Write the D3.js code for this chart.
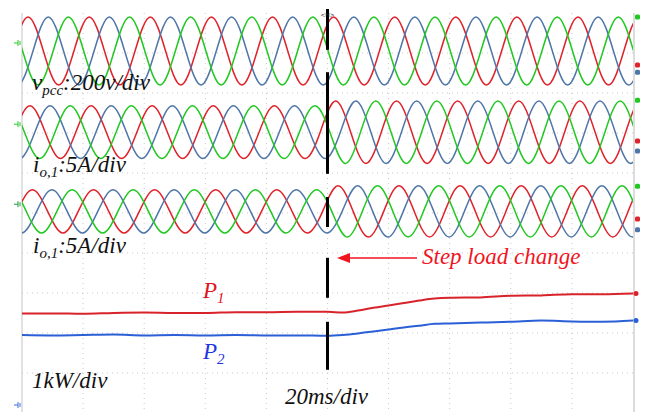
<!DOCTYPE html>
<html lang="en">
<head>
<meta charset="utf-8">
<title>Step load change</title>
<script src="https://cdn.jsdelivr.net/npm/d3@7"></script>
<style>
  body { margin: 0; background: #fff; }
  svg { display: block; }
  .lbl { font-family: "Liberation Serif", "Times New Roman", serif; font-style: italic; }
</style>
</head>
<body>
<script>
var w = 649, h = 412;

// time base: 20 ms/div, 10 divisions, load step at 5 div
var timeDomain = [0, 10];
var stepTime = 5.0;

// three phases (a, b, c)
var phaseColors = ["#e0222a", "#4f76a8", "#21c821"];

// band 1 : vpcc, 200 V/div
var vpccOffset = 4.05;          // div above centre
var vpccScale = 200;            // V/div
var vpccPeakTime = [0.10, 0.43, 0.76];   // first positive peak per phase (div)
var vpccAmp = [170, 170];       // peak V before / after step

// band 2 : io,1, 5 A/div
var io1Offset = 2.02;
var io1Scale = 5;
var io1PeakTime = [0.13, 0.46, 0.79];
var io1Amp = [3.3, 3.9];

// band 3 : second output current, 5 A/div
var io2Offset = 0.04;
var io2Scale = 5;
var io2PeakTime = [0.17, 0.49, 0.82];
var io2Amp = [2.7, 3.2];

// power, 1 kW/div, ground at -4.8 div
var powerOffset = -4.8;
var powerTime = [0, 0.5, 1, 1.5, 2, 2.5, 3, 3.5, 4, 4.5, 5, 5.25, 5.5, 5.75, 6, 6.25, 6.5, 6.75, 7, 7.5, 8, 8.5, 9, 9.5, 10];
var p1 = [2.29, 2.29, 2.28, 2.30, 2.31, 2.30, 2.30, 2.32, 2.32, 2.33, 2.33, 2.31, 2.36, 2.43, 2.49, 2.55, 2.61, 2.66, 2.68, 2.69, 2.73, 2.74, 2.77, 2.77, 2.79];
var p2 = [1.75, 1.74, 1.75, 1.76, 1.74, 1.75, 1.74, 1.75, 1.74, 1.74, 1.73, 1.75, 1.79, 1.84, 1.89, 1.94, 1.98, 2.03, 2.04, 2.06, 2.08, 2.11, 2.09, 2.08, 2.11];

// channel markers: left ground symbols and right level markers (div)
var groundDiv = [4.25, 2.22, 0.22];
var groundColors = ["#21c821", "#21c821", "#1a9a3a"];
var rightMarkDiv = [[4.9, 3.7, 3.52], [2.82, 1.8, 1.55], [0.67, -0.15, -0.42]]; // [green, red, blue]

// trigger line segments (div)
var trigSegs = [[5.1, 4.08], [3.52, 0.98], [0.4, -0.35], [-1.12, -2.12], [-2.72, -3.92]];

var x = d3.scaleLinear().domain(timeDomain).range([22, 633]);
var y = d3.scaleLinear().domain([-5, 5]).range([413, 13]);

var svg = d3.select("body").append("svg").attr("width", w).attr("height", h);

svg.append("defs").append("clipPath").attr("id", "plot")
  .append("rect").attr("x", 22).attr("y", 0).attr("width", 611).attr("height", h);

// dotted grid
var grid = svg.append("g").attr("stroke", "#c9c9c9").attr("stroke-dasharray", "1,4").attr("stroke-width", 1);
grid.selectAll("line.v").data(d3.range(1, 10)).enter().append("line")
  .attr("x1", function(d){ return x(d); }).attr("x2", function(d){ return x(d); })
  .attr("y1", y(5)).attr("y2", h);
grid.selectAll("line.h").data(d3.range(-4, 5)).enter().append("line")
  .attr("x1", x(0)).attr("x2", x(10))
  .attr("y1", function(d){ return y(d); }).attr("y2", function(d){ return y(d); });

// frame lines
svg.append("line").attr("x1", x(0)).attr("x2", x(0)).attr("y1", y(5)).attr("y2", h)
  .attr("stroke", "#c4c4c4").attr("stroke-width", 1);
svg.append("line").attr("x1", x(10) + 1).attr("x2", x(10) + 1).attr("y1", y(5)).attr("y2", h)
  .attr("stroke", "#dcdcdc").attr("stroke-width", 2);

// build wave points from peak times and amplitudes
function wavePoints(peak, amp, scale, offset) {
  var pts = [];
  var pattern = [1, 0, -1, 0];
  for (var q = -8; q <= 48; q++) {
    var t = peak + q / 4;
    var a = t < stepTime ? amp[0] : amp[1];
    var v = pattern[((q % 4) + 4) % 4] * a;
    pts.push([t, offset + v / scale]);
  }
  return pts;
}

var waveLine = d3.line()
  .x(function(d){ return x(d[0]); })
  .y(function(d){ return y(d[1]); })
  .curve(d3.curveNatural);

var bands = [
  { peaks: vpccPeakTime, amp: vpccAmp, scale: vpccScale, offset: vpccOffset },
  { peaks: io1PeakTime, amp: io1Amp, scale: io1Scale, offset: io1Offset },
  { peaks: io2PeakTime, amp: io2Amp, scale: io2Scale, offset: io2Offset }
];

var waves = svg.append("g").attr("clip-path", "url(#plot)");
bands.forEach(function(b){
  b.peaks.forEach(function(p, i){
    waves.append("path")
      .attr("d", waveLine(wavePoints(p, b.amp, b.scale, b.offset)))
      .attr("fill", "none")
      .attr("stroke", phaseColors[i])
      .attr("stroke-width", 1.5);
  });
});

// power traces
var pLine = d3.line()
  .x(function(d, i){ return x(powerTime[i]); })
  .y(function(d){ return y(powerOffset + d); })
  .curve(d3.curveMonotoneX);
svg.append("path").attr("d", pLine(p1)).attr("fill", "none").attr("stroke", "#d8232b").attr("stroke-width", 2);
svg.append("path").attr("d", pLine(p2)).attr("fill", "none").attr("stroke", "#2b5fd6").attr("stroke-width", 2);
svg.append("circle").attr("cx", x(10) + 3).attr("cy", y(powerOffset + p1[p1.length - 1])).attr("r", 2.5).attr("fill", "#d8232b");
svg.append("circle").attr("cx", x(10) + 3).attr("cy", y(powerOffset + p2[p2.length - 1])).attr("r", 2.5).attr("fill", "#2b5fd6");

// trigger line
svg.selectAll("line.trig").data(trigSegs).enter().append("line")
  .attr("x1", x(stepTime)).attr("x2", x(stepTime))
  .attr("y1", function(d){ return y(d[0]); }).attr("y2", function(d){ return y(d[1]); })
  .attr("stroke", "#000").attr("stroke-width", 3);
svg.append("text").attr("x", x(stepTime)).attr("y", 17).attr("text-anchor", "middle")
  .attr("font-family", "DejaVu Sans").attr("font-size", 6).attr("fill", "#222").text("<H>");

// ground markers on the left
groundDiv.concat([powerOffset]).forEach(function(g, i){
  var c = i < 3 ? groundColors[i] : "#3b6fe0";
  var gy = y(g);
  var m = svg.append("g").attr("stroke", c).attr("stroke-width", 1);
  m.append("line").attr("x1", 14).attr("x2", 18).attr("y1", gy).attr("y2", gy);
  m.append("line").attr("x1", 18).attr("x2", 18).attr("y1", gy - 3).attr("y2", gy + 3);
  m.append("line").attr("x1", 20).attr("x2", 20).attr("y1", gy - 2).attr("y2", gy + 2);
});

// right-hand channel markers
var markColors = ["#21c821", "#e0222a", "#4f76a8"];
rightMarkDiv.forEach(function(row){
  row.forEach(function(d, i){
    svg.append("rect").attr("x", x(10) + 2).attr("y", y(d) - 2.5).attr("width", 5).attr("height", 5)
      .attr("rx", 1.5).attr("fill", markColors[i]);
  });
});

// labels
function subLabel(tx, ty, main, sub, rest, color) {
  var t = svg.append("text").attr("class", "lbl").attr("x", tx).attr("y", ty)
    .attr("font-size", 23).attr("fill", color);
  t.append("tspan").text(main);
  t.append("tspan").attr("font-size", 15).attr("dy", 5).text(sub);
  if (rest) t.append("tspan").attr("dy", -5).text(rest);
}
subLabel(32, 90, "v", "pcc", ":200v/div", "#111");
subLabel(33, 172, "i", "o,1", ":5A/div", "#111");
subLabel(33, 253, "i", "o,1", ":5A/div", "#111");
subLabel(203, 298, "P", "1", null, "#e0141e");
subLabel(203, 359, "P", "2", null, "#2236e0");

svg.append("text").attr("class", "lbl").attr("x", 32).attr("y", 388).attr("font-size", 23)
  .attr("fill", "#111").text("1kW/div");
svg.append("text").attr("class", "lbl").attr("x", 285).attr("y", 404).attr("font-size", 23)
  .attr("fill", "#111").text("20ms/div");
svg.append("text").attr("class", "lbl").attr("x", 422).attr("y", 264).attr("font-size", 23)
  .attr("fill", "#f0141e").text("Step load change");

// arrow
svg.append("line").attr("x1", 417).attr("x2", 346).attr("y1", 258).attr("y2", 258)
  .attr("stroke", "#f0141e").attr("stroke-width", 1.5);
svg.append("path").attr("d", "M337,258 L350,253 L350,263 Z").attr("fill", "#f0141e");
</script>
</body>
</html>
